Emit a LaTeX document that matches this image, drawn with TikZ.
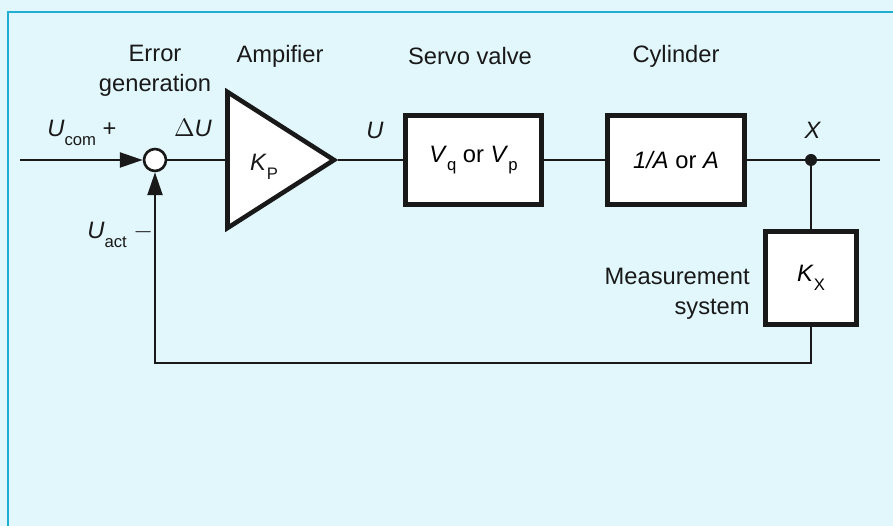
\documentclass[tikz,border=0pt]{standalone}
\usepackage{fontspec}
\setmainfont{Liberation Sans}
\usetikzlibrary{arrows.meta,positioning,calc}

\definecolor{panelbg}{RGB}{226,247,251}
\definecolor{panelrule}{RGB}{30,175,210}
\definecolor{ink}{RGB}{25,25,25}
\newcommand{\lowidx}[1]{\raisebox{-0.7ex}{\fontsize{9.5}{10}\selectfont #1}}

\tikzset{
  wire/.style={draw=ink, line width=1.4pt},
  block/.style={draw=ink, fill=white, line width=2.6pt, inner sep=0pt, font=\fontsize{13.5}{16}\selectfont},
  sumnode/.style={circle, draw=ink, fill=white, line width=1.5pt, minimum size=0.44cm, inner sep=0pt},
  tapdot/.style={circle, fill=ink, minimum size=0.24cm, inner sep=0pt},
  lbl/.style={font=\fontsize{13.5}{17}\selectfont, text=ink, align=center, inner sep=0pt},
}

\begin{document}
\begin{tikzpicture}[x=0.02cm,y=-0.02cm,>={Triangle[length=13pt,width=8.5pt]}]
  \useasboundingbox (0,0) rectangle (893,526);
  \fill[panelbg] (0,0) rectangle (893,526);
  \draw[panelrule,line width=1.2pt] (8,526)--(8,12)--(893,12);

  % blocks
  \node[sumnode] (sum) at (155,160) {};
  \draw[block,line join=miter] (227.5,92)--(334,160)--(227.5,228)--cycle;
  \coordinate (ampin) at (227.5,160);
  \coordinate (ampout) at (338,160);
  \node[block,minimum width=2.73cm,minimum height=1.78cm] (valve) at (473.5,160) {\textit{V}\lowidx{q} or \textit{V}\lowidx{p}};
  \node[block,minimum width=2.75cm,minimum height=1.78cm] (cyl) at (676,160) {\textit{1/A} or \textit{A}};
  \node[block,minimum width=1.83cm,minimum height=1.87cm] (kx) at (811,278) {\textit{K}\lowidx{X}};
  \node[tapdot] (tap) at (811,160) {};
  \coordinate (in) at (20,160);
  \coordinate (out) at (880,160);
  \coordinate (fb) at (811,363);

  % connectors
  \draw[wire,->] (in)--(sum);
  \draw[wire] (sum)--(ampin);
  \draw[wire] (ampout)--(valve);
  \draw[wire] (valve)--(cyl);
  \draw[wire] (cyl)--(out);
  \draw[wire] (tap)--(kx);
  \draw[wire,->] (kx)--(fb)-|(sum);

  % labels
  \node[lbl] at (155,71) {Error\\generation};
  \node[lbl] at (280,56) {Ampifier};
  \node[lbl] at (470,56) {Servo valve};
  \node[lbl] at (676,56) {Cylinder};
  \node[lbl] at (264,167) {\textit{K}\lowidx{P}};
  \node[lbl,anchor=west] at (47,133) {\textit{U}\lowidx{com} +};
  \node[lbl,anchor=west] at (87,235) {\textit{U}\lowidx{act} $-$};
  \node[lbl] at (193,128) {$\Delta$\textit{U}};
  \node[lbl] at (375,130) {\textit{U}};
  \node[lbl] at (813,130) {\textit{X}};
  \node[lbl,align=right,anchor=east] at (750,294) {Measurement\\system};
\end{tikzpicture}
\end{document}
